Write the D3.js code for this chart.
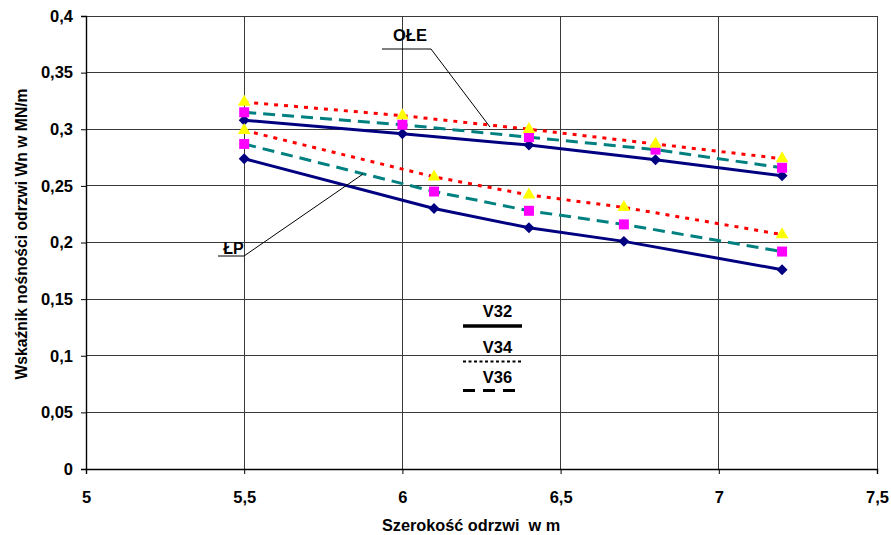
<!DOCTYPE html>
<html>
<head>
<meta charset="utf-8">
<script src="https://cdn.jsdelivr.net/npm/d3@7"></script>
<style>
  body { margin: 0; background: #fff; }
  text { font-family: "Liberation Sans", Arial, sans-serif; font-weight: bold; white-space: pre; }
</style>
</head>
<body>
<svg id="chart"></svg>
<script>
const margin = { t: 16, r: 14, b: 66, l: 86 };
const size = { w: 891, h: 535 };

// x positions of measurements
const xOLE = [5.5, 6, 6.4, 6.8, 7.2];
const xLP = [5.5, 6.1, 6.4, 6.7, 7.2];

// OŁE group
const oleV32 = [0.308, 0.296, 0.286, 0.273, 0.259];
const oleV34 = [0.324, 0.312, 0.300, 0.287, 0.274];
const oleV36 = [0.315, 0.304, 0.293, 0.282, 0.266];

// ŁP group
const lpV32 = [0.274, 0.230, 0.213, 0.201, 0.176];
const lpV34 = [0.299, 0.258, 0.242, 0.231, 0.207];
const lpV36 = [0.287, 0.245, 0.228, 0.216, 0.192];

const xTicks = [5, 5.5, 6, 6.5, 7, 7.5];
const yTicks = [0, 0.05, 0.1, 0.15, 0.2, 0.25, 0.3, 0.35, 0.4];

const series = [
  { name: "V32", xs: xOLE, ys: oleV32, color: "#000080", dash: null, marker: "diamond" },
  { name: "V32", xs: xLP, ys: lpV32, color: "#000080", dash: null, marker: "diamond" },
  { name: "V36", xs: xOLE, ys: oleV36, color: "#008080", dash: "12,7", marker: "square" },
  { name: "V36", xs: xLP, ys: lpV36, color: "#008080", dash: "12,7", marker: "square" },
  { name: "V34", xs: xOLE, ys: oleV34, color: "#ff0000", dash: "4,6", marker: "triangle" },
  { name: "V34", xs: xLP, ys: lpV34, color: "#ff0000", dash: "4,6", marker: "triangle" },
];

const svg = d3.select("svg#chart").attr("width", size.w).attr("height", size.h);
const w = size.w - margin.l - margin.r;
const h = size.h - margin.t - margin.b;

const g = svg.append("g").attr("transform", `translate(${margin.l}, ${margin.t})`);

const x = d3.scaleLinear().domain([5, 7.5]).range([0, w]);
const y = d3.scaleLinear().domain([0, 0.4]).range([h, 0]);
const fmt = (d) => String(d).replace(".", ",");

// grid
g.append("g")
  .selectAll("line.gx")
  .data(xTicks.slice(1))
  .join("line")
  .attr("x1", (d) => x(d)).attr("x2", (d) => x(d))
  .attr("y1", 0).attr("y2", h)
  .attr("stroke", "#3a3a3a").attr("stroke-width", 1).attr("shape-rendering", "crispEdges");
g.append("g")
  .selectAll("line.gy")
  .data(yTicks.slice(1))
  .join("line")
  .attr("x1", 0).attr("x2", w)
  .attr("y1", (d) => y(d)).attr("y2", (d) => y(d))
  .attr("stroke", "#3a3a3a").attr("stroke-width", 1).attr("shape-rendering", "crispEdges");

// axes
const xAxis = g.append("g")
  .attr("transform", `translate(0, ${h})`)
  .call(d3.axisBottom(x).tickValues(xTicks).tickFormat(fmt).tickSize(5).tickPadding(17));
const yAxis = g.append("g")
  .call(d3.axisLeft(y).tickValues(yTicks).tickFormat(fmt).tickSize(5).tickPadding(8));
[xAxis, yAxis].forEach((a) => {
  a.select(".domain").attr("stroke", "#000").attr("stroke-width", 1.4);
  a.selectAll(".tick line").attr("stroke", "#000");
  a.selectAll(".tick text").attr("font-size", 16.5).attr("font-family", "Liberation Sans, Arial").attr("font-weight", "bold").attr("fill", "#000");
});

// lines and markers
const line = d3.line().x((d) => x(d[0])).y((d) => y(d[1]));
const markerPath = {
  diamond: d3.symbol().type(d3.symbolSquare).size(60)(),
  square: d3.symbol().type(d3.symbolSquare).size(100)(),
  triangle: d3.symbol().type(d3.symbolTriangle).size(70)(),
};
const markerFill = { diamond: "#000080", square: "#ff00ff", triangle: "#ffff00" };

series.forEach((s) => {
  const pts = s.xs.map((v, i) => [v, s.ys[i]]);
  g.append("path")
    .attr("d", line(pts))
    .attr("fill", "none")
    .attr("stroke", s.color)
    .attr("stroke-width", 3)
    .attr("stroke-dasharray", s.dash);
  g.append("g")
    .selectAll("path")
    .data(pts)
    .join("path")
    .attr("d", markerPath[s.marker])
    .attr("fill", markerFill[s.marker])
    .attr("transform", (d) => `translate(${x(d[0])}, ${y(d[1])})` + (s.marker === "diamond" ? " rotate(45)" : ""));
});

// annotations
svg.append("text").attr("x", 410).attr("y", 41).attr("text-anchor", "middle").attr("font-size", 16.5).text("OŁE");
svg.append("polyline")
  .attr("points", "382,49 431,49 490,127")
  .attr("fill", "none").attr("stroke", "#000").attr("stroke-width", 1);
svg.append("text").attr("x", 233.5).attr("y", 254).attr("text-anchor", "middle").attr("font-size", 16).text("ŁP");
svg.append("polyline")
  .attr("points", "218,256 244,256 363,174")
  .attr("fill", "none").attr("stroke", "#000").attr("stroke-width", 1);

// legend
const legend = [
  { name: "V32", ty: 317, ly: 326, dash: null, w: 3.5, x2: 522 },
  { name: "V34", ty: 353, ly: 361.5, dash: "3,2.5", w: 2.2, x2: 522 },
  { name: "V36", ty: 383, ly: 390.5, dash: "12,8", w: 3, x2: 515 },
];
legend.forEach((l) => {
  svg.append("text").attr("x", 497.5).attr("y", l.ty).attr("text-anchor", "middle").attr("font-size", 16.5).text(l.name);
  svg.append("line")
    .attr("x1", 463).attr("x2", l.x2).attr("y1", l.ly).attr("y2", l.ly)
    .attr("stroke", "#000").attr("stroke-width", l.w).attr("stroke-dasharray", l.dash);
});

// axis titles
svg.append("text")
  .attr("x", 471).attr("y", 531)
  .attr("text-anchor", "middle").attr("font-size", 16.3)
  .text("Szerokość odrzwi  w m");
svg.append("text")
  .attr("transform", "translate(27, 234) rotate(-90)")
  .attr("text-anchor", "middle").attr("font-size", 15.7)
  .text("Wskaźnik nośności odrzwi Wn w MN/m");
</script>
</body>
</html>
